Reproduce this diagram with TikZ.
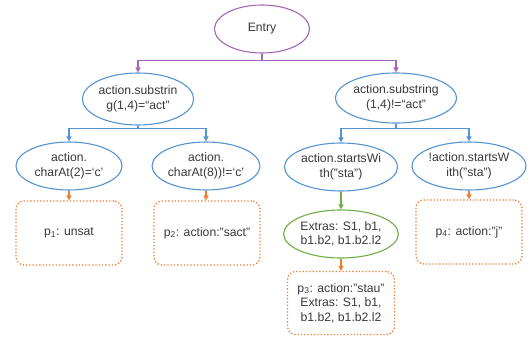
\documentclass[tikz,border=0pt]{standalone}
\usepackage{fontspec}
\setmainfont{Liberation Sans}
\usetikzlibrary{arrows.meta,shapes.geometric}
\definecolor{cpurple}{RGB}{163,104,181}
\definecolor{cblue}{RGB}{84,148,210}
\definecolor{cgreen}{RGB}{112,173,71}
\definecolor{corange}{RGB}{237,125,49}
\definecolor{ctext}{RGB}{56,56,56}
\tikzset{
  base/.style={font=\fontsize{12.2}{14.5}\selectfont, text=ctext, align=center, inner sep=0pt},
  ell/.style={base, ellipse, line width=1.1pt, minimum height=48pt},
  pell/.style={ell, draw=cpurple, minimum width=95pt},
  bell/.style={ell, draw=cblue, minimum width=106pt},
  gell/.style={ell, draw=cgreen, minimum width=107pt},
  pbox/.style={base, draw=corange, dotted, line width=1.3pt, rounded corners=8pt, minimum width=106pt, minimum height=64pt},
  tip/.style={-{Triangle[length=5pt,width=5pt]}},
  parr/.style={tip, draw=cpurple, line width=1.1pt},
  barr/.style={tip, draw=cblue, line width=1.1pt},
  garr/.style={tip, draw=cgreen, line width=1.1pt},
  oarr/.style={tip, draw=corange, line width=1.1pt},
}
\begin{document}
\begin{tikzpicture}[x=1pt,y=-1pt]
\useasboundingbox (0,0) rectangle (531,340);
\node[pell] (entry) at (262,29) {Entry};
\node[bell, minimum width=104pt, minimum height=52pt] (L) at (138,99) {action.substrin\\g(1,4)=“act”};
\node[bell, minimum width=106pt, minimum height=50pt] (R) at (396,98) {action.substring\\(1,4)!=“act”};
\node[bell] (LL) at (69,166) {action.\\charAt(2)=‘c’};
\node[bell] (LR) at (206,166) {action.\\charAt(8))!=‘c’};
\node[bell] (RL) at (341,167) {action.startsWi\\th("sta")};
\node[bell] (RR) at (469,166) {!action.startsW\\ith("sta")};
\node[gell] (G) at (341,234) {Extras: S1, b1,\\b1.b2, b1.b2.l2};
\node[pbox] (P1) at (69,233) {p\textsubscript{1}: unsat};
\node[pbox] (P2) at (207,233) {p\textsubscript{2}: action:"sact"};
\node[pbox] (P4) at (469,232) {p\textsubscript{4}: action:"j"};
\node[pbox, minimum width=107pt, minimum height=63pt] (P3) at (341,303) {p\textsubscript{3}: action:"stau"\\Extras: S1, b1,\\b1.b2, b1.b2.l2};
\draw[parr] (entry.south) -- ++(0,7) -| (L.north);
\draw[parr] (entry.south) -- ++(0,7) -| (R.north);
\draw[barr] (L.south) -- ++(0,3) -| (LL.north);
\draw[barr] (L.south) -- ++(0,3) -| (LR.north);
\draw[barr] (R.south) -- ++(0,5) -| (RL.north);
\draw[barr] (R.south) -- ++(0,5) -| (RR.north);
\draw[oarr] (LL.south) -- (LL.south |- P1.north);
\draw[oarr] (LR.south) -- (LR.south |- P2.north);
\draw[oarr] (RR.south) -- (RR.south |- P4.north);
\draw[garr] (RL.south) -- (G.north);
\draw[oarr] (G.south) -- (P3.north);
\end{tikzpicture}
\end{document}
